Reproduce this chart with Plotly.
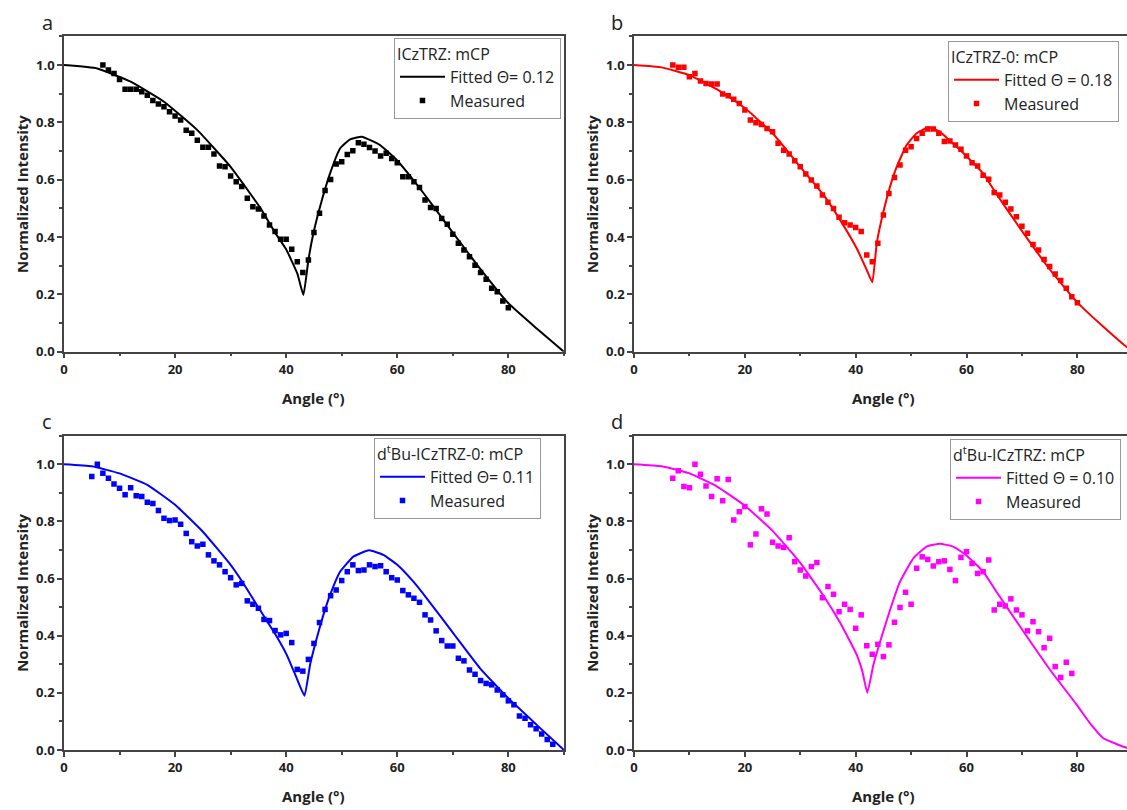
import plotly.graph_objects as go

# ---------------- data ----------------
# Panel a: ICzTRZ: mCP
a_meas_x = list(range(7, 81))
a_meas_y = [1.000, 0.983, 0.971, 0.950, 0.916, 0.916, 0.916, 0.907, 0.895, 0.876,
            0.864, 0.855, 0.837, 0.822, 0.808, 0.773, 0.762, 0.738, 0.713, 0.713,
            0.690, 0.648, 0.645, 0.613, 0.593, 0.576, 0.535, 0.506, 0.498, 0.473,
            0.442, 0.419, 0.392, 0.392, 0.357, 0.314, 0.276, 0.320, 0.416, 0.483,
            0.562, 0.601, 0.655, 0.663, 0.688, 0.701, 0.729, 0.724, 0.712, 0.700,
            0.683, 0.692, 0.674, 0.659, 0.610, 0.610, 0.593, 0.573, 0.529, 0.503,
            0.500, 0.465, 0.445, 0.410, 0.378, 0.355, 0.331, 0.302, 0.276, 0.253,
            0.221, 0.209, 0.177, 0.153]
a_fit_x = [0, 6, 12, 18, 24, 30, 35.4, 38, 40, 42, 43.1, 44, 44.9, 46.1, 47.9,
           49.7, 51.5, 53.6, 56.9, 59.9, 62.9, 65.9, 70.1, 74.9, 80, 85.1, 90]
a_fit_y = [1.0, 0.988, 0.942, 0.872, 0.773, 0.645, 0.50, 0.415, 0.357, 0.273,
           0.198, 0.32, 0.413, 0.506, 0.622, 0.709, 0.741, 0.750, 0.721, 0.669,
           0.599, 0.523, 0.413, 0.29, 0.169, 0.081, 0.0]

# Panel b: ICzTRZ-0: mCP
b_meas_x = list(range(7, 81))
b_meas_y = [1.000, 0.992, 0.992, 0.959, 0.971, 0.944, 0.936, 0.934, 0.934, 0.899,
            0.893, 0.881, 0.866, 0.843, 0.808, 0.799, 0.793, 0.779, 0.767, 0.727,
            0.703, 0.690, 0.666, 0.645, 0.620, 0.599, 0.578, 0.547, 0.521, 0.500,
            0.469, 0.450, 0.442, 0.433, 0.419, 0.337, 0.314, 0.378, 0.477, 0.552,
            0.608, 0.651, 0.703, 0.715, 0.744, 0.762, 0.777, 0.777, 0.762, 0.733,
            0.735, 0.721, 0.706, 0.683, 0.659, 0.648, 0.616, 0.602, 0.555, 0.547,
            0.521, 0.498, 0.471, 0.438, 0.413, 0.374, 0.355, 0.322, 0.297, 0.271,
            0.248, 0.221, 0.192, 0.171]
b_fit_x = [0, 5, 10, 15, 20, 25, 30, 34.2, 37.2, 40.2, 42, 43.0, 43.8, 45, 46.2,
           47.4, 49.2, 51, 53.2, 55.2, 58.2, 60, 63, 65.4, 70.3, 75.1, 79.9, 84.7,
           88.9, 90]
b_fit_y = [1.0, 0.992, 0.965, 0.915, 0.85, 0.762, 0.645, 0.547, 0.459, 0.36, 0.285,
           0.242, 0.378, 0.488, 0.576, 0.645, 0.721, 0.762, 0.783, 0.767, 0.715,
           0.682, 0.622, 0.55, 0.413, 0.285, 0.174, 0.087, 0.017, 0.01]

# Panel c: dtBu-ICzTRZ-0: mCP
c_meas_x = list(range(5, 89))
c_meas_y = [0.957, 1.000, 0.969, 0.951, 0.931, 0.916, 0.893, 0.918, 0.890, 0.887,
            0.867, 0.863, 0.838, 0.811, 0.803, 0.805, 0.790, 0.758, 0.729, 0.714,
            0.720, 0.683, 0.662, 0.648, 0.624, 0.603, 0.578, 0.583, 0.522, 0.510,
            0.496, 0.457, 0.453, 0.418, 0.403, 0.408, 0.376, 0.282, 0.276, 0.317,
            0.373, 0.446, 0.492, 0.540, 0.560, 0.593, 0.624, 0.648, 0.628, 0.630,
            0.648, 0.642, 0.645, 0.624, 0.603, 0.595, 0.558, 0.543, 0.531, 0.517,
            0.473, 0.455, 0.417, 0.383, 0.364, 0.364, 0.321, 0.312, 0.280, 0.265,
            0.243, 0.233, 0.228, 0.210, 0.193, 0.172, 0.158, 0.119, 0.111, 0.088,
            0.074, 0.056, 0.037, 0.020]
c_fit_x = [0, 5, 10, 15, 20, 25, 30, 32.1, 35.1, 38.1, 40.1, 41.9, 43.3, 44.3, 45.5,
           46.7, 47.9, 49.7, 52.1, 54.9, 57.5, 60, 62.9, 65.3, 70.1, 74.9, 80, 85.1,
           90]
c_fit_y = [1.0, 0.993, 0.968, 0.928, 0.858, 0.764, 0.648, 0.589, 0.496, 0.403, 0.333,
           0.251, 0.19, 0.298, 0.391, 0.473, 0.543, 0.624, 0.677, 0.699, 0.683, 0.648,
           0.589, 0.531, 0.408, 0.286, 0.181, 0.088, 0.0]

# Panel d: dtBu-ICzTRZ: mCP
d_meas_x = list(range(7, 80))
d_meas_y = [0.951, 0.977, 0.922, 0.918, 1.000, 0.965, 0.924, 0.887, 0.949, 0.872,
            0.947, 0.805, 0.834, 0.852, 0.718, 0.756, 0.844, 0.826, 0.727, 0.714,
            0.709, 0.743, 0.659, 0.630, 0.609, 0.642, 0.656, 0.533, 0.572, 0.545,
            0.484, 0.510, 0.492, 0.426, 0.473, 0.365, 0.335, 0.370, 0.327, 0.368,
            0.447, 0.499, 0.552, 0.510, 0.636, 0.676, 0.667, 0.644, 0.659, 0.662,
            0.632, 0.593, 0.674, 0.694, 0.653, 0.618, 0.624, 0.665, 0.490, 0.510,
            0.504, 0.529, 0.490, 0.473, 0.417, 0.449, 0.414, 0.358, 0.391, 0.292,
            0.254, 0.307, 0.268]
d_fit_x = [0, 5, 10, 15, 20, 25, 30, 34.2, 37.2, 40.2, 41.2, 42.1, 43.2, 44.4, 46.2,
           48, 50.4, 52.8, 55.2, 57.6, 60, 63, 65.4, 70.3, 75.1, 79.9, 82.3, 84.7,
           88.9, 90]
d_fit_y = [1.0, 0.993, 0.968, 0.922, 0.855, 0.767, 0.655, 0.54, 0.445, 0.333, 0.276,
           0.20, 0.298, 0.379, 0.49, 0.589, 0.671, 0.712, 0.722, 0.712, 0.681, 0.624,
           0.554, 0.414, 0.28, 0.158, 0.093, 0.041, 0.008, 0.005]

panels = [
    dict(mx=a_meas_x, my=a_meas_y, fx=a_fit_x, fy=a_fit_y, color="#000000",
         title="ICzTRZ: mCP", fit="Fitted \u0398= 0.12", letter="a"),
    dict(mx=b_meas_x, my=b_meas_y, fx=b_fit_x, fy=b_fit_y, color="#ff0000",
         title="ICzTRZ-0: mCP", fit="Fitted \u0398 = 0.18", letter="b"),
    dict(mx=c_meas_x, my=c_meas_y, fx=c_fit_x, fy=c_fit_y, color="#0000ff",
         title="d<sup>t</sup>Bu-ICzTRZ-0: mCP", fit="Fitted \u0398= 0.11", letter="c"),
    dict(mx=d_meas_x, my=d_meas_y, fx=d_fit_x, fy=d_fit_y, color="#ff00ff",
         title="d<sup>t</sup>Bu-ICzTRZ: mCP", fit="Fitted \u0398 = 0.10", letter="d"),
]

W, H = 1127, 810
FONT = "Open Sans"
AX = "#444444"

# pixel layout of each panel: (left, right, bottom, top, xmax)
geo = [
    (64, 563.9, 351.7, 36.4, 90),
    (634, 1127, 351.7, 36.4, 88.96),
    (64, 563.9, 750, 435.7, 90),
    (634, 1127, 750, 435.7, 88.96),
]
legend_pos = [(561, 38), (948, 41), (374, 438), (950, 439)]
legend_anchor = ["right", "left", "left", "left"]

fig = go.Figure()
annotations = []
for i, (p, g) in enumerate(zip(panels, geo)):
    n = "" if i == 0 else str(i + 1)
    leg = "legend" if i == 0 else "legend" + str(i + 1)
    fig.add_trace(go.Scatter(
        x=p["fx"], y=p["fy"], mode="lines", name=p["fit"],
        line=dict(color=p["color"], width=2, shape="spline", smoothing=0.4),
        xaxis="x" + n, yaxis="y" + n, legend=leg))
    fig.add_trace(go.Scatter(
        x=p["mx"], y=p["my"], mode="markers", name="Measured",
        marker=dict(color=p["color"], symbol="square", size=5.5,
                    line=dict(width=0)),
        xaxis="x" + n, yaxis="y" + n, legend=leg))
    l, r, b, t, xmax = g
    common = dict(showline=True, linecolor=AX, linewidth=1.5, mirror=True,
                  ticks="outside", tickcolor=AX, tickwidth=1.5, ticklen=5,
                  showgrid=False, zeroline=False,
                  tickfont=dict(family=FONT, size=13, color="#222222",
                                weight="bold"))
    fig.update_layout(**{
        "xaxis" + n: dict(domain=[l / W, r / W], range=[0, xmax],
                          tick0=0, dtick=20, anchor="y" + n,
                          minor=dict(dtick=10, ticks="outside", ticklen=3,
                                     tickcolor=AX, tickwidth=1.5),
                          **common),
        "yaxis" + n: dict(domain=[1 - b / H, 1 - t / H], range=[0, 1.1],
                          tick0=0, dtick=0.2, tickformat=".1f", anchor="x" + n,
                          minor=dict(dtick=0.1, ticks="outside", ticklen=3,
                                     tickcolor=AX, tickwidth=1.5),
                          **common),
        leg: dict(x=legend_pos[i][0] / W, y=1 - legend_pos[i][1] / H,
                  xanchor=legend_anchor[i], yanchor="top",
                  bgcolor="white", bordercolor="#999999", borderwidth=1,
                  font=dict(family=FONT, size=16, color="#222222"),
                  title=dict(text=p["title"],
                             font=dict(family=FONT, size=16, color="#222222")),
                  itemwidth=45, tracegroupgap=0),
    })
    # panel letter
    annotations.append(dict(text=p["letter"], x=(l - 17) / W, y=1 - (t - 14) / H,
                            xref="paper", yref="paper", showarrow=False,
                            font=dict(family=FONT, size=20, color="#222222"),
                            xanchor="center", yanchor="middle"))
    # axis titles
    annotations.append(dict(text="<b>Angle (\u00b0)</b>",
                            x=(l + (l + 5.548 * 90)) / 2 / W,
                            y=1 - (b + 46) / H, xref="paper", yref="paper",
                            showarrow=False,
                            font=dict(family=FONT, size=15, color="#222222"),
                            xanchor="center", yanchor="middle"))
    annotations.append(dict(text="<b>Normalized Intensity</b>",
                            x=(l - 42) / W, y=1 - (b + t) / 2 / H,
                            xref="paper", yref="paper", showarrow=False,
                            textangle=-90,
                            font=dict(family=FONT, size=15, color="#222222"),
                            xanchor="center", yanchor="middle"))

fig.update_layout(
    width=W, height=H,
    margin=dict(l=0, r=0, t=0, b=0, autoexpand=False),
    paper_bgcolor="white", plot_bgcolor="white",
    showlegend=True,
    annotations=annotations,
)

fig.write_html("out.html",
               config={"displayModeBar": False},
               post_script="document.body.style.margin='0';"
                           "document.body.style.overflow='hidden';")
